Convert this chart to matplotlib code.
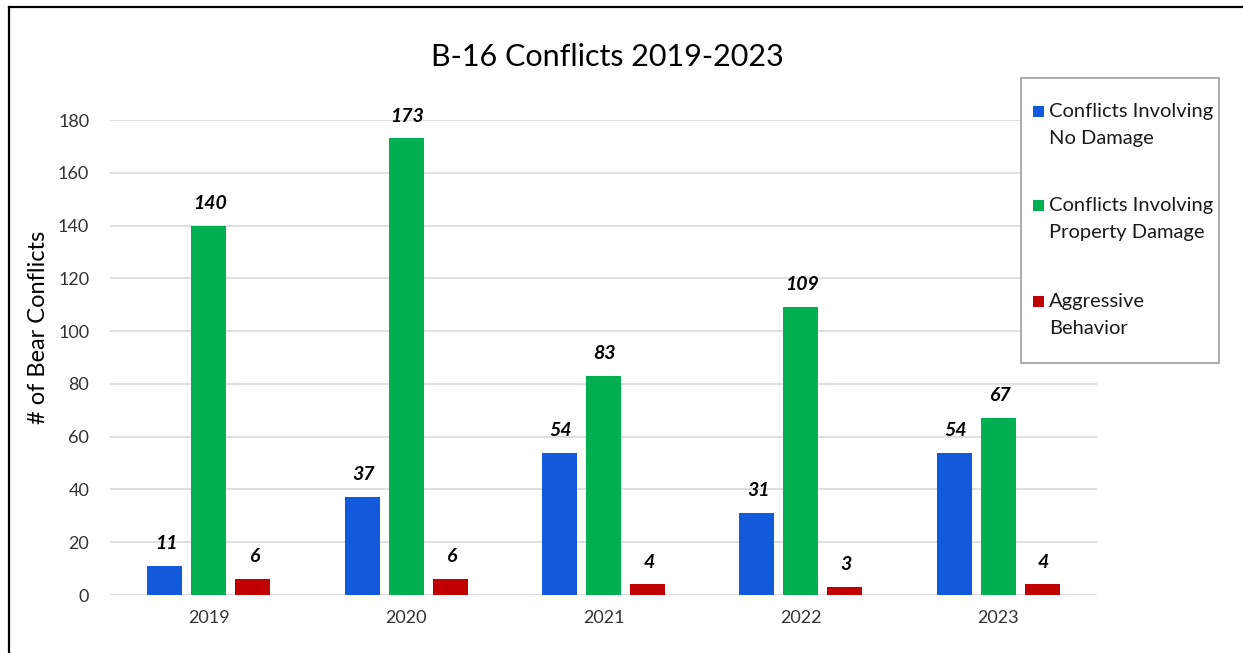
import numpy as np
import matplotlib
matplotlib.use("Agg")
import matplotlib.pyplot as plt
from matplotlib.patches import Rectangle
from matplotlib.lines import Line2D

plt.rcParams['font.family'] = ['Lato', 'DejaVu Sans']

years = ['2019', '2020', '2021', '2022', '2023']
no_damage = [11, 37, 54, 31, 54]
property_damage = [140, 173, 83, 109, 67]
aggressive = [6, 6, 4, 3, 4]

series_names = ['Conflicts Involving\nNo Damage',
                'Conflicts Involving\nProperty Damage',
                'Aggressive\nBehavior']
colors = ['#1259DB', '#00B050', '#C00000']

W, H = 1243, 653
fig = plt.figure(figsize=(W / 100, H / 100), dpi=100)
ax = fig.add_axes([0.0885, 0.0888, 0.794, 0.7274])

x = np.arange(len(years))
offset = 0.223
width = 0.177
for i, (vals, col) in enumerate(zip([no_damage, property_damage, aggressive], colors)):
    pos = x + (i - 1) * offset
    bars = ax.bar(pos, vals, width=width, color=col, zorder=3)
    for b, v in zip(bars, vals):
        ax.annotate(str(v), (b.get_x() + b.get_width() / 2, v),
                    xytext=(1, 10), textcoords='offset points',
                    ha='center', va='bottom', fontsize=14,
                    fontweight='bold', fontstyle='italic', color='black',
                    annotation_clip=False)

ax.set_xlim(-0.5, 4.5)
ax.set_ylim(0, 180)
ax.set_yticks(range(0, 181, 20))
ax.set_xticks(x)
ax.set_xticklabels(years)
ax.tick_params(axis='both', length=0, labelsize=13, colors='#333333')
ax.tick_params(axis='y', pad=15)
ax.tick_params(axis='x', pad=11)
ax.grid(axis='y', color='#d9d9d9', linewidth=1.2, zorder=0)
for s in ax.spines.values():
    s.set_visible(False)

ax.set_ylabel('# of Bear Conflicts', fontsize=17)
ax.yaxis.set_label_coords(-0.062, 0.564)

fig.text(0.489, 1 - 57 / H, 'B-16 Conflicts 2019-2023', ha='center', va='center',
         fontsize=22)

# legend box (drawn in pixel positions of the figure)
fig.add_artist(Rectangle((1021 / W, 1 - 363 / H), 198 / W, 285 / H,
                         transform=fig.transFigure, facecolor='white',
                         edgecolor='#a6a6a6', linewidth=1.3, zorder=5))
entry_y = [111, 205, 301]
for name, col, yy in zip(series_names, colors, entry_y):
    fig.add_artist(Rectangle((1033 / W, 1 - (yy + 5.5) / H), 11 / W, 11 / H,
                             transform=fig.transFigure, facecolor=col,
                             edgecolor='none', zorder=6))
    fig.text(1049 / W, 1 - (yy - 8) / H, name, ha='left', va='top',
             fontsize=14.5, linespacing=1.68, zorder=6, color='#1a1a1a')

# outer chart border (left and top visible)
fig.add_artist(Line2D([0.0072, 0.0072], [0.99, 0.0], transform=fig.transFigure,
                      color='black', linewidth=1.6))
fig.add_artist(Line2D([0.0072, 1.0], [0.99, 0.99], transform=fig.transFigure,
                      color='black', linewidth=1.6))

fig.savefig('out.png', dpi=100)
